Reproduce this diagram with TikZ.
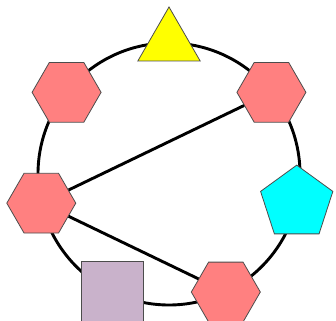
\documentclass[tikz,border=0pt]{standalone}
\usepackage{tikz}
\usetikzlibrary{shapes.geometric}

\definecolor{hexred}{RGB}{255,128,128}
\definecolor{lilac}{RGB}{201,178,203}
\definecolor{pentcyan}{RGB}{0,255,255}
\definecolor{triyellow}{RGB}{255,255,0}

\begin{document}
\begin{tikzpicture}[x=1pt, y=1pt,
  shapebase/.style={draw=black!70, line width=0.8pt, inner sep=0pt},
  hexnode/.style={shapebase, regular polygon, regular polygon sides=6,
    minimum size=69pt, fill=hexred},
  trinode/.style={shapebase, regular polygon, regular polygon sides=3,
    minimum size=72pt, fill=triyellow},
  pentnode/.style={shapebase, regular polygon, regular polygon sides=5,
    minimum size=76pt, fill=pentcyan},
  boxnode/.style={shapebase, rectangle, minimum width=62pt,
    minimum height=62pt, fill=lilac},
  link/.style={line width=2.9pt}
]
\useasboundingbox (0,0) rectangle (336,320);
\coordinate (c) at (169,146);
\draw[link] (c) circle[radius=131];
\begin{scope}[shift={(c)}]
\node[trinode] (top) at (90:131) {};
\node[hexnode] (hexR) at (38.57:131) {};
\node[pentnode] (pent) at (-12.86:131) {};
\node[hexnode] (hexB) at (-64.29:131) {};
\node[boxnode] (box) at (-115.71:131) {};
\node[hexnode] (hexL) at (-167.14:131) {};
\node[hexnode] (hexTL) at (141.43:131) {};
\end{scope}
\draw[link] (hexR) -- (hexL);
\draw[link] (hexL) -- (hexB);
\end{tikzpicture}
\end{document}
